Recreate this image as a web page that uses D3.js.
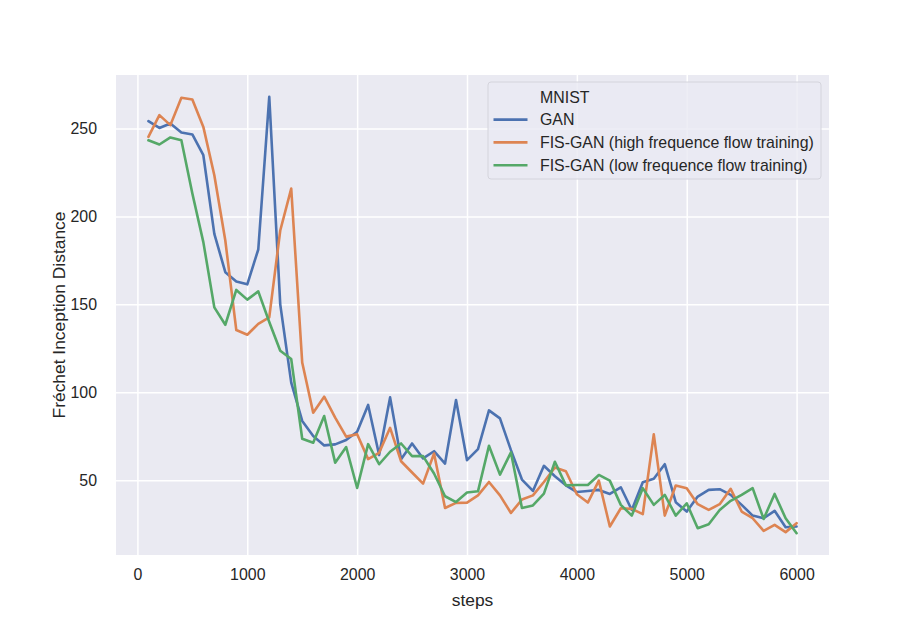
<!DOCTYPE html>
<html>
<head>
<meta charset="utf-8">
<script src="https://cdn.jsdelivr.net/npm/d3@7"></script>
<style>
  body { margin: 0; background: #ffffff; }
  text { font-family: "Liberation Sans", Arial, sans-serif; fill: #262626; }
</style>
</head>
<body>
<div id="chart"></div>
<script>
// Set dimensions and margins for the plot
const width = 921;
const height = 633;
const margin = {left: 116, right: 92, top: 75, bottom: 80};

// Data: FID per 100 training steps
const steps = d3.range(100, 6001, 100);

const gan = [254.2, 250.3, 252.8, 247.7, 246.6, 234.8, 190.1, 168.3, 163, 161.4,
  181.2, 268, 150, 105.5, 83.7, 75.1, 69.8, 70.4, 72.9, 77.6,
  92.8, 64.3, 97.1, 62, 70.9, 62.4, 66.5, 59.5, 95.6, 61.4,
  67.7, 89.7, 85.2, 67.1, 50.4, 43.9, 58.2, 52.3, 47.1, 43.3,
  43.9, 44.5, 42.2, 46, 33.1, 48.9, 50.8, 59.1, 37.5, 32.2,
  40.7, 44.5, 44.9, 41.7, 36, 29.9, 28.4, 32.6, 23.3, 23.7];

const fisHigh = [245.2, 257.6, 251.9, 267.5, 266.5, 250.9, 223.4, 186.3, 135.4, 132.7,
  138.9, 142.6, 192, 215.8, 116.9, 88.4, 97.5, 85.6, 74.8, 76.2,
  62, 65.6, 79.8, 60.8, 54.4, 48.1, 65.2, 34.2, 37.1, 37.3,
  41.4, 49, 41.4, 31.4, 39, 41.4, 49, 57.2, 55.1, 42,
  37.3, 49.8, 23.7, 34.1, 33.7, 30.7, 76.1, 29.9, 47, 45.5,
  36.4, 33.1, 36.4, 45.1, 32.2, 28.4, 21.2, 24.6, 20.5, 25.6];

const fisLow = [243.3, 240.9, 244.9, 243.3, 213, 185.4, 148.3, 138.4, 158.2, 152.7,
  157.4, 140, 123.6, 118.9, 73.6, 71.3, 86.5, 60, 68.9, 45.6,
  70.5, 59.1, 66.2, 70.9, 63.7, 63.7, 53.8, 40.9, 37.6, 43,
  43.7, 69.6, 53.2, 65.8, 34.2, 35.7, 42.4, 60.5, 47.1, 47.3,
  47.3, 53, 49.8, 36, 29.9, 45.5, 36, 41.7, 29.9, 36.9,
  22.7, 25, 33.1, 38.3, 41.7, 45.5, 28, 42.2, 28.4, 19.9];

const seriesNames = ["GAN", "FIS-GAN (high frequence flow training)", "FIS-GAN (low frequence flow training)"];
const seriesColors = ["#4c72b0", "#dd8452", "#55a868"];
const xTicks = [0, 1000, 2000, 3000, 4000, 5000, 6000];
const yTicks = [50, 100, 150, 200, 250];

const series = [gan, fisHigh, fisLow];

const tickFont = "15.9px";
const labelFont = "17.4px";

const svg = d3.select("#chart")
  .append("svg")
  .attr("width", width)
  .attr("height", height);

// scales, with matplotlib style 5% padding around the data
const xExt = d3.extent(steps);
const xPad = (xExt[1] - xExt[0]) * 0.05;
const allY = series.flat();
const yExt = d3.extent(allY);
const yPad = (yExt[1] - yExt[0]) * 0.05;
const plotBottom = height - margin.bottom + 2;

const xScale = d3.scaleLinear()
  .domain([xExt[0] - xPad, xExt[1] + xPad])
  .range([margin.left, width - margin.right]);

const yScale = d3.scaleLinear()
  .domain([yExt[0] - yPad, yExt[1] + yPad])
  .range([plotBottom, margin.top]);

// plot background
svg.append("rect")
  .attr("x", margin.left)
  .attr("y", margin.top)
  .attr("width", width - margin.left - margin.right)
  .attr("height", plotBottom - margin.top)
  .attr("fill", "#eaeaf2");

// grid lines
svg.append("g")
  .attr("transform", `translate(0,${plotBottom})`)
  .call(d3.axisBottom(xScale).tickValues(xTicks)
    .tickSize(-(plotBottom - margin.top)).tickFormat(""))
  .call(g => g.select(".domain").remove())
  .call(g => g.selectAll("line").attr("stroke", "#ffffff").attr("stroke-width", 1.5));

svg.append("g")
  .attr("transform", `translate(${margin.left},0)`)
  .call(d3.axisLeft(yScale).tickValues(yTicks)
    .tickSize(-(width - margin.left - margin.right)).tickFormat(""))
  .call(g => g.select(".domain").remove())
  .call(g => g.selectAll("line").attr("stroke", "#ffffff").attr("stroke-width", 1.5));

// tick labels (no tick marks in darkgrid)
svg.append("g")
  .attr("transform", `translate(0,${plotBottom})`)
  .call(d3.axisBottom(xScale).tickValues(xTicks).tickSize(0).tickPadding(14).tickFormat(d3.format("d")))
  .call(g => g.select(".domain").remove())
  .call(g => g.selectAll("text").attr("font-size", tickFont).attr("fill", "#262626"));

svg.append("g")
  .attr("transform", `translate(${margin.left},0)`)
  .call(d3.axisLeft(yScale).tickValues(yTicks).tickSize(0).tickPadding(19).tickFormat(d3.format("d")))
  .call(g => g.select(".domain").remove())
  .call(g => g.selectAll("text").attr("font-size", tickFont).attr("fill", "#262626"));

// axis labels
svg.append("text")
  .attr("x", (margin.left + width - margin.right) / 2)
  .attr("y", 606)
  .attr("text-anchor", "middle")
  .attr("font-size", labelFont)
  .text("steps");

svg.append("text")
  .attr("transform", `translate(65,${(margin.top + plotBottom) / 2}) rotate(-90)`)
  .attr("text-anchor", "middle")
  .attr("font-size", labelFont)
  .text("Fréchet Inception Distance");

// lines
const line = d3.line()
  .x((d, i) => xScale(steps[i]))
  .y(d => yScale(d));

svg.selectAll(".series")
  .data(series)
  .enter()
  .append("path")
  .attr("class", "series")
  .attr("d", d => line(d))
  .attr("fill", "none")
  .attr("stroke", (d, i) => seriesColors[i])
  .attr("stroke-width", 2.6)
  .attr("stroke-linejoin", "round")
  .attr("stroke-linecap", "round");

// legend
const legend = svg.append("g").attr("transform", "translate(488,82)");

legend.append("rect")
  .attr("width", 333)
  .attr("height", 97)
  .attr("rx", 3)
  .attr("fill", "#eaeaf2")
  .attr("fill-opacity", 0.8)
  .attr("stroke", "#d4d4dc")
  .attr("stroke-width", 1);

legend.append("text")
  .attr("x", 52)
  .attr("y", 15)
  .attr("dy", "0.35em")
  .attr("font-size", tickFont)
  .text("MNIST");

const rows = legend.selectAll(".row")
  .data(seriesNames)
  .enter()
  .append("g")
  .attr("class", "row")
  .attr("transform", (d, i) => `translate(0,${37.6 + i * 22.8})`);

rows.append("line")
  .attr("x1", 5.5)
  .attr("x2", 39.5)
  .attr("stroke", (d, i) => seriesColors[i])
  .attr("stroke-width", 2.6);

rows.append("text")
  .attr("x", 52)
  .attr("dy", "0.35em")
  .attr("font-size", tickFont)
  .text(d => d);
</script>
</body>
</html>
